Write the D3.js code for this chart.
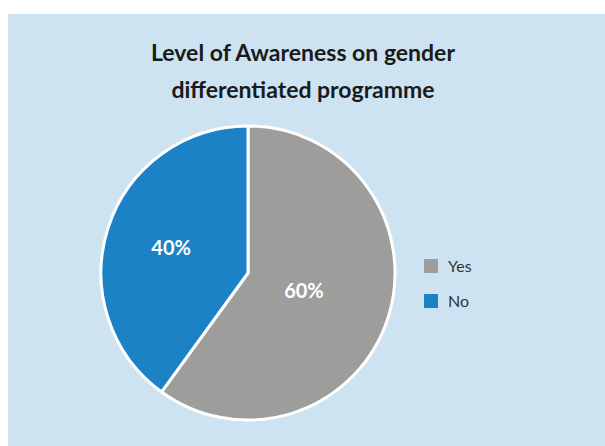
<!DOCTYPE html>
<html><head><meta charset="utf-8">
<script src="https://cdn.jsdelivr.net/npm/d3@7"></script>
<style>body{margin:0;background:#fff}svg{display:block}</style>
</head><body>
<svg id="c" width="605" height="446"></svg>
<script>
const categories = ["Yes", "No"];
const values = [60, 40];
const labels = ["60%", "40%"];
const colors = ["#9d9d9c", "#1b82c5"];
const titleLines = ["Level of Awareness on gender", "differentiated programme"];

const svg = d3.select("#c");
const font = "Lato, 'Open Sans', sans-serif";
svg.append("rect").attr("x", 8).attr("y", 14).attr("width", 597).attr("height", 432).attr("fill", "#cde3f1");

svg.append("g").selectAll("text").data(titleLines).join("text")
  .attr("x", 303).attr("y", (d, i) => 61 + i * 37)
  .attr("text-anchor", "middle").attr("font-family", font).attr("font-weight", "bold")
  .attr("font-size", 23).attr("fill", "#1a1a1a").text(d => d);

const cx = 248, cy = 273, r = 147;
const labelRadius = [0.40, 0.55];
const pie = d3.pie().sort(null).value(d => d)(values);
const arc = d3.arc().innerRadius(0).outerRadius(r);
const g = svg.append("g").attr("transform", `translate(${cx},${cy})`);
g.selectAll("path").data(pie).join("path")
  .attr("d", arc).attr("fill", (d, i) => colors[i])
  .attr("stroke", "#fff").attr("stroke-width", 3).attr("stroke-linejoin", "round");
g.selectAll("text").data(pie).join("text")
  .attr("transform", (d, i) => {
    const a = d3.arc().innerRadius(r * labelRadius[i]).outerRadius(r * labelRadius[i]);
    return `translate(${a.centroid(d)})`;
  })
  .attr("text-anchor", "middle").attr("dy", "0.35em")
  .attr("font-family", font).attr("font-weight", "bold").attr("font-size", 20)
  .attr("fill", "#fff").text((d, i) => labels[i]);

const lg = svg.append("g");
categories.forEach((c, i) => {
  lg.append("rect").attr("x", 424).attr("y", 259 + i * 35).attr("width", 14).attr("height", 14).attr("fill", colors[i]);
  lg.append("text").attr("x", 448).attr("y", 272 + i * 35).attr("font-family", font)
    .attr("font-size", 16).attr("fill", "#333").text(c);
});
</script>
</body></html>
